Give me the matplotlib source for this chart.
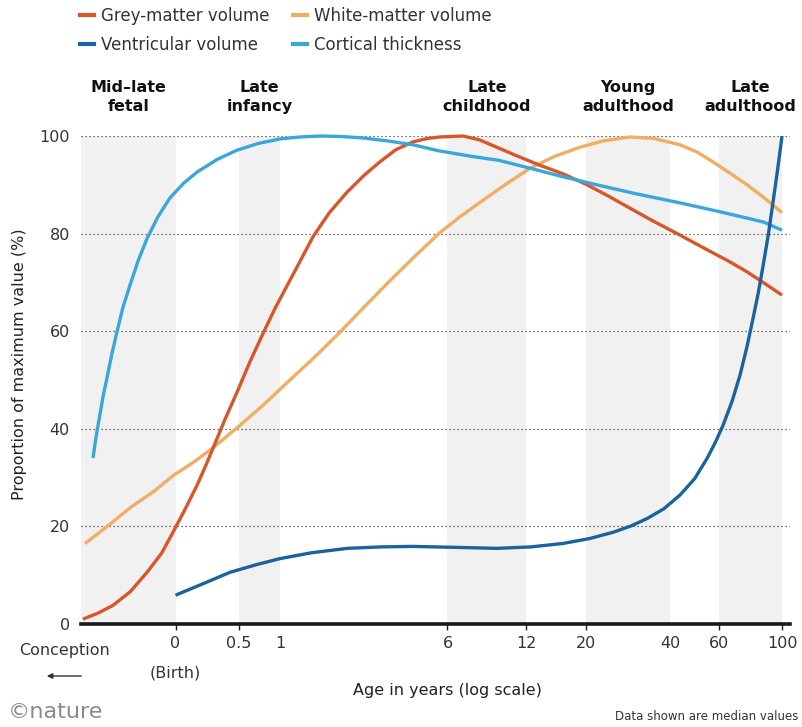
import numpy as np
import matplotlib
matplotlib.use('Agg')
import matplotlib.pyplot as plt
from matplotlib import transforms
from matplotlib.lines import Line2D

# Age in years relative to birth (negative values = before birth)
grey_age = [-0.395, -0.35, -0.298, -0.23, -0.154, -0.08, -0.015, 0.06, 0.142, 0.2,
            0.265, 0.37, 0.483, 0.62, 0.77, 0.93, 1.1, 1.3, 1.53, 1.85, 2.25, 2.7,
            3.16, 3.7, 4.36, 5.0, 5.6, 6.9, 8.0, 9.3, 11.0, 13.5, 16.5, 20.1, 24.0,
            28.75, 35.0, 43.4, 53.0, 65.4, 75.0, 85.7, 100]
grey_val = [1.0, 2.2, 3.8, 6.6, 10.6, 14.5, 18.8, 23.5, 28.4, 32.0,
            36.0, 42.0, 47.5, 53.8, 59.5, 64.8, 69.4, 74.3, 79.4, 84.3, 88.5, 92.0,
            94.7, 97.2, 98.8, 99.5, 99.8, 100.0, 99.2, 97.7, 96.0, 94.0, 92.2, 90.0, 87.7,
            85.2, 82.5, 79.7, 77.0, 74.2, 72.2, 70.0, 67.4]

white_age = [-0.389, -0.32, -0.231, -0.12, -0.015, 0.12, 0.265, 0.5, 0.77, 1.1,
             1.53, 2.05, 2.66, 3.4, 4.36, 5.6, 6.7, 8.03, 10.0, 12.4, 15.4, 18.95,
             23.0, 28.75, 35.0, 43.4, 50.0, 56.9, 65.0, 75.2, 87.0, 100]
white_val = [16.5, 19.9, 23.8, 27.2, 30.4, 33.2, 36.1, 40.5, 44.8, 49.5,
             54.4, 59.5, 64.7, 69.8, 75.0, 80.2, 83.4, 86.4, 90.0, 93.4, 95.9, 97.7,
             99.0, 99.8, 99.5, 98.2, 96.7, 94.7, 92.5, 90.0, 87.2, 84.3]

cortex_age = [-0.365, -0.355, -0.343, -0.332, -0.319, -0.302, -0.283, -0.26, -0.231,
              -0.195, -0.154, -0.1, -0.033, 0.05, 0.142, 0.3, 0.483, 0.72, 0.995,
              1.3, 1.66, 2.1, 2.66, 3.4, 4.36, 5.5, 7.5, 9.5, 12.4, 16.0, 21.8, 30.0,
              43.4, 60.0, 85.7, 100]
cortex_val = [34.0, 38.5, 42.8, 46.7, 50.4, 55.2, 59.8, 64.8, 69.4,
              74.5, 79.0, 83.4, 87.3, 90.3, 92.6, 95.2, 97.1, 98.5, 99.4,
              99.8, 100.0, 99.9, 99.6, 99.0, 98.2, 97.0, 95.8, 95.0, 93.4, 91.8, 90.0, 88.2,
              86.3, 84.5, 82.4, 80.7]

ventr_age = [0, 0.2, 0.415, 0.7, 0.995, 1.5, 2.25, 3.2, 4.36, 6.5, 9.32, 12.5, 16.4,
             20.5, 25.0, 29.0, 33.1, 38.0, 43.4, 49.0, 54.2, 58.0, 61.8, 66.5, 71.0,
             75.0, 78.95, 82.5, 85.7, 89.5, 92.9, 96.5, 100]
ventr_val = [5.9, 8.4, 10.6, 12.2, 13.4, 14.6, 15.5, 15.8, 15.9, 15.7, 15.5, 15.8, 16.5,
             17.5, 18.8, 20.1, 21.6, 23.6, 26.4, 29.8, 33.9, 37.2, 40.7, 45.6, 51.0,
             56.6, 62.6, 68.0, 73.4, 79.9, 86.4, 93.2, 100.0]

# Life stages shaded in the background
stage_names = ['Mid–late\nfetal', 'Late\ninfancy', 'Late\nchildhood',
               'Young\nadulthood', 'Late\nadulthood']
stage_spans = [(-0.4005, 0), (0.5, 1), (6, 12), (20, 40), (60, 100)]

tick_ages = [0, 0.5, 6, 12, 20, 60, 100]
tick_labels = ['0', '0.5', '6', '12', '20', '60', '100']
plain_ages = [1, 40]
plain_labels = ['1', '40']

GREY = '#D8572A'
WHITE = '#F2AD64'
VENTR = '#1B639E'
CORTEX = '#3BA6DA'

GESTATION = 0.75  # years from conception to birth


def fwd(a):
    return np.log10(np.asarray(a, dtype=float) + GESTATION)


def inv(v):
    return 10 ** np.asarray(v, dtype=float) - GESTATION


plt.rcParams['font.family'] = ['DejaVu Sans']

fig = plt.figure(figsize=(8.03, 7.27), dpi=100)
ax = fig.add_axes([81 / 803, 103 / 727, 709 / 803, 488 / 727])
ax.set_xscale('function', functions=(fwd, inv))
ax.set_xlim(-0.4005, 106.7)
ax.set_ylim(0, 100)

for lo, hi in stage_spans:
    ax.axvspan(lo, hi, color='#F1F1F1', lw=0, zorder=0)

ax.set_axisbelow(True)
ax.set_yticks([0, 20, 40, 60, 80, 100])
ax.yaxis.grid(True, linestyle=(0, (1, 2.2)), color='#444444', lw=0.9)

for age, val, col in [(white_age, white_val, WHITE), (grey_age, grey_val, GREY),
                      (cortex_age, cortex_val, CORTEX), (ventr_age, ventr_val, VENTR)]:
    ax.plot(age, val, color=col, lw=2.4, solid_capstyle='butt',
            solid_joinstyle='round', clip_on=False, zorder=3)

for s in ['top', 'right', 'left']:
    ax.spines[s].set_visible(False)
ax.spines['bottom'].set_linewidth(2.6)
ax.spines['bottom'].set_color('#1a1a1a')
ax.spines['bottom'].set_zorder(4)

ax.set_xticks(tick_ages)
ax.set_xticklabels(tick_labels)
ax.set_xticks(plain_ages, minor=True)
ax.set_xticklabels(plain_labels, minor=True)
ax.tick_params(axis='x', which='major', length=4.5, width=1, color='#222222',
               pad=4, labelsize=11.5, labelcolor='#333333')
ax.tick_params(axis='x', which='minor', length=0, pad=8.5,
               labelsize=11.5, labelcolor='#333333')
ax.tick_params(axis='y', length=0, pad=8, labelsize=11.5, labelcolor='#333333')

# stage labels centred on their bands (in log space)
blend = transforms.blended_transform_factory(ax.transData, fig.transFigure)
for name, (lo, hi) in zip(stage_names, stage_spans):
    mid = inv((fwd(lo) + fwd(hi)) / 2)
    ax.text(mid, 1 - 97 / 727, name, transform=blend, ha='center', va='center',
            fontsize=11.5, fontweight='bold', linespacing=1.4, color='#111111')

ax.text(0, 1 - 673 / 727, '(Birth)', transform=blend, ha='center', va='center',
        fontsize=11.5, color='#333333')
fig.text(65 / 803, 1 - 650 / 727, 'Conception', ha='center', va='center',
         fontsize=11.5, color='#333333')
fig.patches.append(matplotlib.patches.FancyArrowPatch(
    (84 / 803, 1 - 676 / 727), (44 / 803, 1 - 676 / 727), transform=fig.transFigure,
    arrowstyle='-|>', mutation_scale=8, lw=1, color='#333333'))

fig.text(447 / 803, 1 - 690 / 727, 'Age in years (log scale)', ha='center', va='center',
         fontsize=11.5, color='#222222')
fig.text(20 / 803, 1 - 364 / 727, 'Proportion of maximum value (%)', rotation=90,
         ha='center', va='center', fontsize=11.5, color='#222222')

handles = [Line2D([], [], color=GREY, lw=3), Line2D([], [], color=VENTR, lw=3),
           Line2D([], [], color=WHITE, lw=3), Line2D([], [], color=CORTEX, lw=3)]
names = ['Grey-matter volume', 'Ventricular volume', 'White-matter volume',
         'Cortical thickness']
fig.legend(handles, names, ncol=2, loc='upper left', bbox_to_anchor=(80 / 803, 1 - 7 / 727),
           frameon=False, fontsize=12, handlelength=0.85, handletextpad=0.4,
           columnspacing=1.4, labelspacing=0.65, borderpad=0, borderaxespad=0,
           labelcolor='#333333')

fig.text(8 / 803, 1 - 712 / 727, '©nature', ha='left', va='center',
         fontsize=16, color='#8a8a8a')
fig.text(798 / 803, 1 - 716 / 727, 'Data shown are median values', ha='right',
         va='center', fontsize=8.5, color='#333333')

fig.savefig('out.png', dpi=100)
